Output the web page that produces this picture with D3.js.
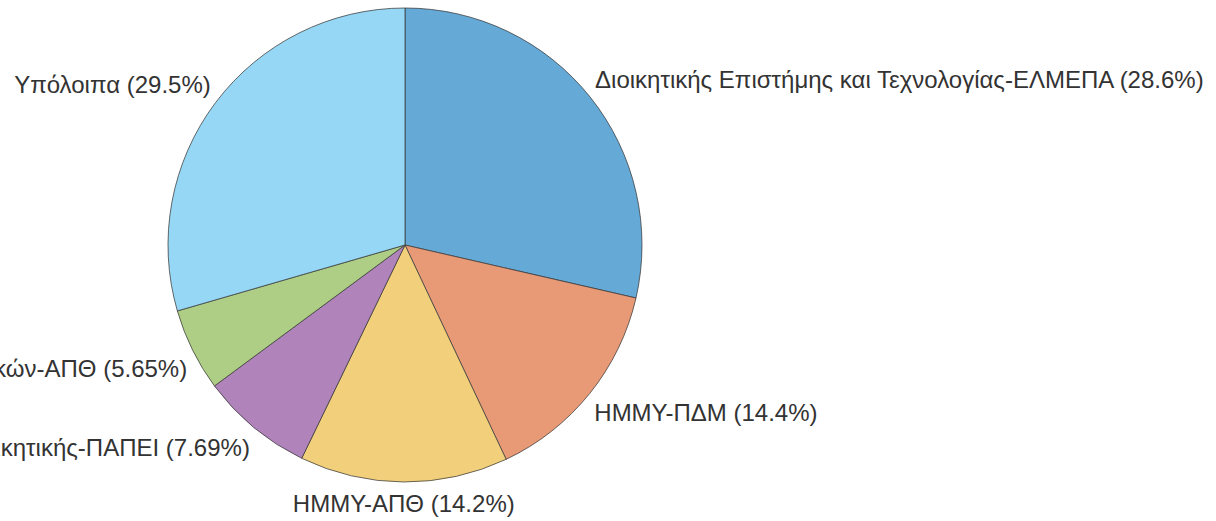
<!DOCTYPE html>
<html>
<head>
<meta charset="utf-8">
<script src="https://cdn.jsdelivr.net/npm/d3@7"></script>
<style>
  body { margin: 0; background: #fff; }
  svg { display: block; }
  .label { font-family: "Liberation Sans", Arial, sans-serif; font-size: 24px; fill: #333; }
</style>
</head>
<body>
<svg width="1216" height="521"></svg>
<script>
// slices, clockwise from 12 o'clock
let names = [
    "Διοικητικής Επιστήμης και Τεχνολογίας-ΕΛΜΕΠΑ",
    "ΗΜΜΥ-ΠΔΜ",
    "ΗΜΜΥ-ΑΠΘ",
    "Οργάνωσης και Διοικητικής-ΠΑΠΕΙ",
    "Μηχανολόγων Μηχανικών-ΑΠΘ",
    "Υπόλοιπα"
];
let shares = [28.6, 14.4, 14.2, 7.69, 5.65, 29.5];
let shareLabels = ["28.6%", "14.4%", "14.2%", "7.69%", "5.65%", "29.5%"];
let colors = ["#65a9d7", "#e89a77", "#f2d07b", "#b083bb", "#aecd85", "#95d7f4"];

let svg = d3.select("svg"),
    cx = 405,
    cy = 245,
    radius = 237;

let g = svg.append("g").attr("transform", "translate(" + cx + "," + cy + ")");

let pie = d3.pie().sort(null).value(function(d) { return d; });
let arcs = pie(shares);

let arc = d3.arc().innerRadius(0).outerRadius(radius);

g.selectAll(".slice")
    .data(arcs)
    .enter()
    .append("path")
    .attr("class", "slice")
    .attr("d", arc)
    .attr("fill", function(d, i) { return colors[i]; })
    .attr("stroke", "#3a3a3a")
    .attr("stroke-opacity", 0.75)
    .attr("stroke-width", 1);

// labels sit just outside the rim at each slice's mid angle
let labelR = radius + 6;
g.selectAll(".label")
    .data(arcs)
    .enter()
    .append("text")
    .attr("class", "label")
    .attr("x", function(d) {
        let a = (d.startAngle + d.endAngle) / 2;
        return labelR * Math.sin(a);
    })
    .attr("y", function(d) {
        let a = (d.startAngle + d.endAngle) / 2;
        let y = -labelR * Math.cos(a);
        return Math.cos(a) > 0 ? y - 6 : y + 24;
    })
    .attr("text-anchor", function(d) {
        let s = Math.sin((d.startAngle + d.endAngle) / 2);
        if (Math.abs(s) < 0.1) return "middle";
        return s > 0 ? "start" : "end";
    })
    .text(function(d, i) { return names[i] + " (" + shareLabels[i] + ")"; });
</script>
</body>
</html>
